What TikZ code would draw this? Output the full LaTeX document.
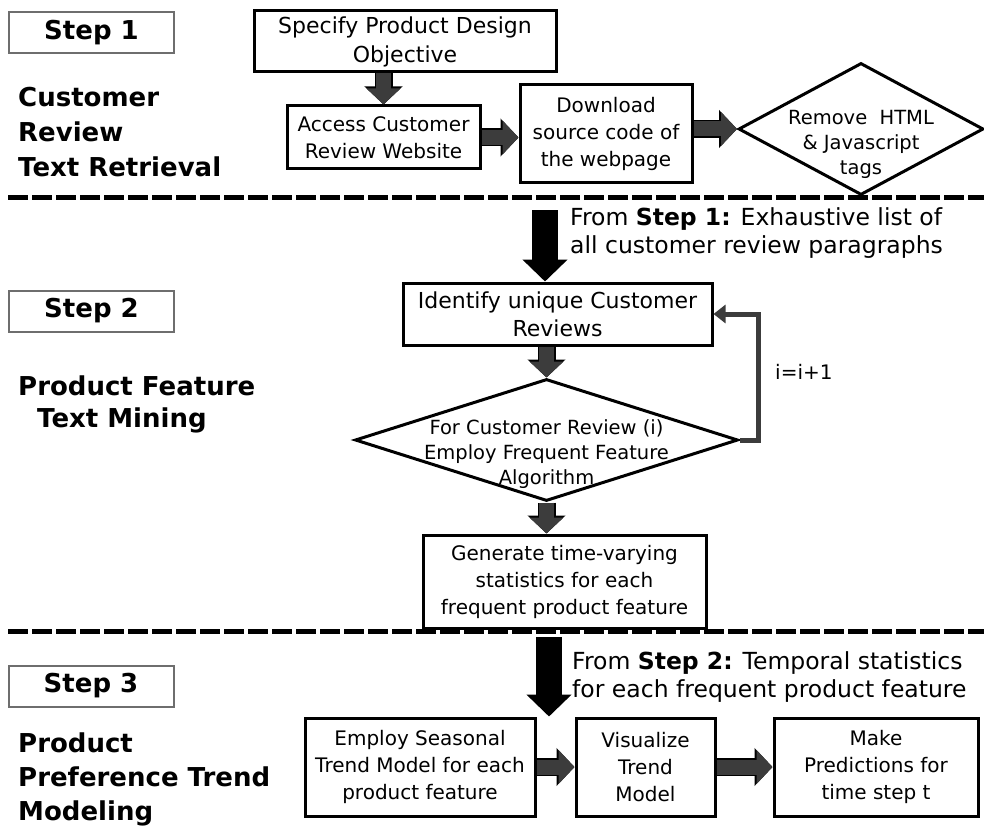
\documentclass[tikz,border=0pt]{standalone}
\usepackage{fontspec}
\setmainfont{DejaVu Sans}
\usetikzlibrary{shapes.geometric,arrows.meta,positioning}
\definecolor{arrowgray}{HTML}{3C3C3C}
\definecolor{stepgray}{HTML}{6E6E6E}

\begin{document}
\begin{tikzpicture}[x=1pt,y=-1pt]
\tikzstyle{box} = [rectangle, draw=black, line width=3pt, align=center, inner sep=0pt, font=\fontsize{20}{27}\selectfont]
\tikzstyle{decision} = [diamond, draw=black, line width=3pt, inner sep=0pt]
\tikzstyle{difftext} = [align=center, inner sep=0pt, font=\fontsize{19.5}{25}\selectfont]
\tikzstyle{stepbox} = [rectangle, draw=stepgray, line width=2pt, minimum width=165pt, minimum height=41pt, font=\fontsize{26}{30}\selectfont\bfseries]
\tikzstyle{tasklabel} = [align=left, inner sep=0pt, anchor=west]
\tikzstyle{notetext} = [align=left, inner sep=0pt, anchor=west, font=\fontsize{23.5}{28}\selectfont]
\tikzstyle{blockarrow} = [line width=15pt, draw=arrowgray, -{Triangle[width=33pt,length=16pt]},
  preaction={draw=black, line width=18pt, -{Triangle[width=37pt,length=18pt]}}]
\tikzstyle{bigarrow} = [line width=26pt, draw=black, -{Triangle[width=44pt,length=22pt]}]
\tikzstyle{looparrow} = [line width=5pt, draw=arrowgray, -{Triangle[width=18pt,length=12pt]}]
\tikzstyle{cutline} = [line width=5pt, dash pattern=on 20pt off 4pt]
\useasboundingbox (0,0) rectangle (984,829);

% step 1
\node (step1)[stepbox] at (91.5,32.5) {Step 1};
\node (task1)[tasklabel, font=\fontsize{26}{35}\selectfont\bfseries] at (18,132) {Customer\\Review\\Text Retrieval};
\node (specify)[box, minimum width=302pt, minimum height=61pt, font=\fontsize{22}{29}\selectfont] at (405,41.5) {Specify Product Design\\Objective};
\node (access)[box, minimum width=193pt, minimum height=63pt] at (383.5,137.5) {Access Customer\\Review Website};
\node (download)[box, minimum width=172pt, minimum height=97pt] at (606,133.5) {Download\\source code of\\the webpage};
\node (remove)[decision, minimum width=245pt, minimum height=132pt,
  label={[difftext, yshift=-15pt]center:{Remove\ \ HTML\\\& Javascript\\tags}}] at (861,129) {};
\draw[blockarrow] (access.north |- specify.south) -- (access.north);
\draw[blockarrow] (access.east) -- (access.east -| download.west);
\draw[blockarrow] (remove.west -| download.east) -- (remove.west);

\coordinate (cut1l) at (8,197);
\coordinate (cut1r) at (984,197);
\draw[cutline] (cut1l) -- (cut1r);

% step 2
\node (step2)[stepbox] at (91.5,311) {Step 2};
\node (task2)[tasklabel, font=\fontsize{26}{32}\selectfont\bfseries] at (18,404) {Product Feature\\\hspace*{19pt}Text Mining};
\node (from1)[notetext] at (570,233) {From \textbf{Step 1:} Exhaustive list of\\all customer review paragraphs};
\node (identify)[box, minimum width=309pt, minimum height=62pt, font=\fontsize{22}{28}\selectfont] at (557.5,314) {Identify unique Customer\\Reviews};
\node (review)[decision, minimum width=383pt, minimum height=122pt,
  label={[difftext, yshift=-14pt]center:{For Customer Review (i)\\Employ Frequent Feature\\Algorithm}}] at (546.5,440) {};
\node (generate)[box, minimum width=283pt, minimum height=93pt] at (564.5,581.5) {Generate time-varying\\statistics for each\\frequent product feature};
\node (incr)[anchor=west, inner sep=0pt, font=\fontsize{20}{24}\selectfont] at (775,372) {i=i+1};
\coordinate (in2) at (545,210);
\coordinate (loopc) at (758,314);
\draw[bigarrow] (in2) -- (in2 |- identify.north);
\draw[blockarrow] (review.north |- identify.south) -- (review.north);
\draw[looparrow] (review.east) -| (loopc) -- (identify.east);
\draw[blockarrow] (review.south) -- (review.south |- generate.north);

\coordinate (cut2l) at (8,631);
\coordinate (cut2r) at (984,631);
\draw[cutline] (cut2l) -- (cut2r);

% step 3
\node (step3)[stepbox] at (91,686) {Step 3};
\node (task3)[tasklabel, font=\fontsize{26}{34}\selectfont\bfseries] at (18,779) {Product\\Preference Trend\\Modeling};
\node (from2)[notetext] at (572,677) {From \textbf{Step 2:} Temporal statistics\\for each frequent product feature};
\node (employ)[box, minimum width=230pt, minimum height=98pt] at (420,767) {Employ Seasonal\\Trend Model for each\\product feature};
\node (visualize)[box, minimum width=139pt, minimum height=98pt, right=38pt of employ] {Visualize\\Trend\\Model};
\node (make)[box, minimum width=204pt, minimum height=98pt, right=56pt of visualize] {Make\\Predictions for\\time step t};
\coordinate (in3) at (549,637);
\draw[bigarrow] (in3) -- (in3 |- employ.north);
\draw[blockarrow] (employ.east) -- (visualize.west);
\draw[blockarrow] (visualize.east) -- (make.west);
\end{tikzpicture}
\end{document}
